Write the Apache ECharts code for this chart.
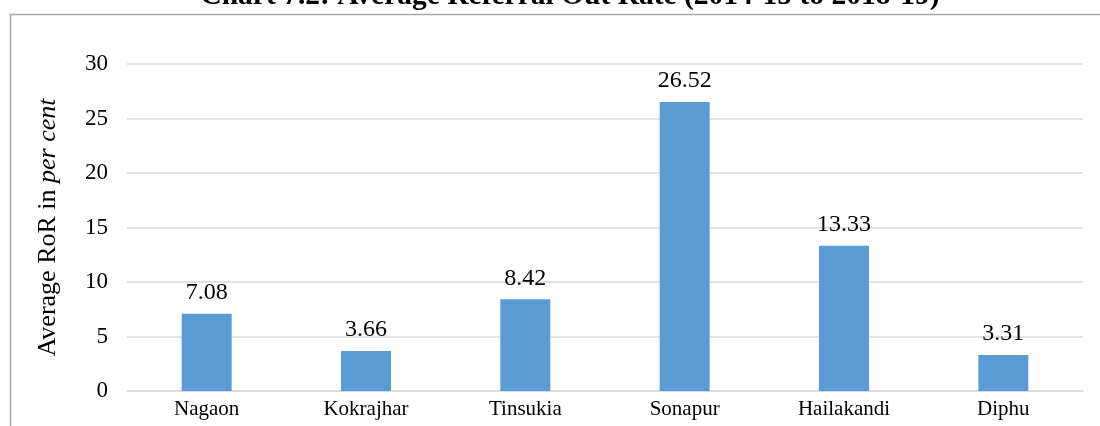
<!DOCTYPE html>
<html>
<head>
<meta charset="utf-8">
<script src="https://cdn.jsdelivr.net/npm/echarts@6/dist/echarts.min.js"></script>
<style>
  html, body { margin: 0; padding: 0; background: #fff; }
  #chart { width: 1100px; height: 426px; }
</style>
</head>
<body>
<div id="chart"></div>
<script>
const districts = ["Nagaon", "Kokrajhar", "Tinsukia", "Sonapur", "Hailakandi", "Diphu"];
const avgRoR = [7.08, 3.66, 8.42, 26.52, 13.33, 3.31];

const chart = echarts.init(document.getElementById("chart"));
const font = "'Liberation Serif', 'Times New Roman', serif";

chart.setOption({
  animation: false,
  title: {
    text: "Chart 7.2: Average Referral Out Rate (2014-15 to 2018-19)",
    left: 565,
    textAlign: "center",
    top: -24,
    textStyle: { fontFamily: font, fontSize: 29.5, fontWeight: "bold", color: "#000" },
  },
  graphic: [
    {
      type: "rect",
      shape: { x: 10.5, y: 14.5, width: 1200, height: 600 },
      style: { fill: "none", stroke: "#a6a6a6", lineWidth: 1.5 },
      silent: true,
    },
  ],
  grid: { left: 127, right: 17, top: 64, bottom: 35 },
  xAxis: {
    type: "category",
    data: districts,
    axisTick: { show: false },
    axisLine: { lineStyle: { color: "#d9d9d9", width: 1.5 } },
    axisLabel: { fontFamily: font, fontSize: 21, color: "#000", margin: 8 },
  },
  yAxis: {
    type: "value",
    min: 0,
    max: 30,
    interval: 5,
    name: "{n|Average RoR in }{i|per cent}",
    nameLocation: "middle",
    nameGap: 66,
    nameTextStyle: {
      rich: {
        n: { fontFamily: font, fontSize: 26, color: "#000" },
        i: { fontFamily: font, fontSize: 26, color: "#000", fontStyle: "italic" },
      },
    },
    axisLine: { show: false },
    axisTick: { show: false },
    axisLabel: { fontFamily: font, fontSize: 23, color: "#000", margin: 19 },
    splitLine: { lineStyle: { color: "#d9d9d9", width: 1.5 } },
  },
  series: [
    {
      type: "bar",
      data: avgRoR,
      barWidth: 50,
      itemStyle: { color: "#5b9bd5" },
      label: {
        show: true,
        position: "top",
        distance: 9,
        fontFamily: font,
        fontSize: 24,
        color: "#000",
        formatter: (p) => p.value.toFixed(2),
      },
    },
  ],
});
</script>
</body>
</html>
